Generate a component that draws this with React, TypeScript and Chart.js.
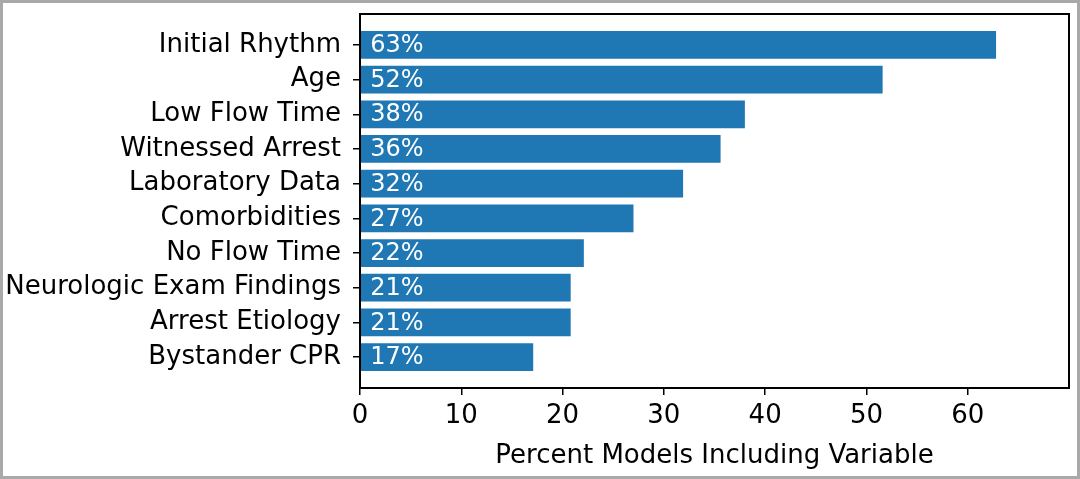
import React, { useEffect, useRef } from "react";
import { Chart, registerables } from "chart.js";

Chart.register(...registerables);

const categories = [
  "Initial Rhythm",
  "Age",
  "Low Flow Time",
  "Witnessed Arrest",
  "Laboratory Data",
  "Comorbidities",
  "No Flow Time",
  "Neurologic Exam Findings",
  "Arrest Etiology",
  "Bystander CPR",
];
const percentValues = [62.8, 51.6, 38.0, 35.6, 31.9, 27.0, 22.1, 20.8, 20.8, 17.1];
const barLabels = ["63%", "52%", "38%", "36%", "32%", "27%", "22%", "21%", "21%", "17%"];
const xTickValues = [0, 10, 20, 30, 40, 50, 60];
const xAxisTitle = "Percent Models Including Variable";

const FONT = "'DejaVu Sans', sans-serif";

export default function App() {
  const ref = useRef<HTMLCanvasElement | null>(null);

  useEffect(() => {
    document.body.style.margin = "0";
    const canvas = ref.current;
    if (!canvas) return;

    const framePlugin = {
      id: "frameAndLabels",
      afterDatasetsDraw(chart: any) {
        const ctx = chart.ctx;
        const meta = chart.getDatasetMeta(0);
        const xs = chart.scales.x;
        ctx.save();
        ctx.fillStyle = "#ffffff";
        ctx.font = `24px ${FONT}`;
        ctx.textAlign = "left";
        ctx.textBaseline = "middle";
        meta.data.forEach((el: any, i: number) => {
          ctx.fillText(barLabels[i], xs.getPixelForValue(1), el.y + 1);
        });
        ctx.restore();
      },
      afterDraw(chart: any) {
        const ctx = chart.ctx;
        const a = chart.chartArea;
        ctx.save();
        ctx.strokeStyle = "#000000";
        ctx.lineWidth = 2;
        ctx.strokeRect(a.left, a.top, a.right - a.left, a.bottom - a.top);
        ctx.strokeStyle = "#a9a9a9";
        ctx.lineWidth = 3;
        ctx.strokeRect(1.5, 1.5, chart.width - 3, chart.height - 3);
        ctx.restore();
      },
    };

    const chart = new Chart(canvas, {
      type: "bar",
      data: {
        datasets: [
          {
            data: percentValues.map((v, i) => ({ x: v, y: i })),
            backgroundColor: "#1f77b4",
            borderWidth: 0,
            barPercentage: 0.8,
            categoryPercentage: 1.0,
          },
        ],
      },
      options: {
        indexAxis: "y",
        animation: false,
        responsive: false,
        layout: { padding: { top: 14, right: 11, left: 0, bottom: 0 } },
        plugins: { legend: { display: false }, tooltip: { enabled: false } },
        scales: {
          x: {
            type: "linear",
            min: 0,
            max: 70,
            offset: false,
            afterBuildTicks: (scale: any) => {
              scale.ticks = xTickValues.map((v) => ({ value: v }));
            },
            afterFit: (scale: any) => {
              scale.height = 91;
              scale.paddingLeft = 0;
              scale.paddingRight = 0;
            },
            grid: { drawOnChartArea: false, drawTicks: true, tickLength: 7, color: "#000", lineWidth: 1.5, offset: false },
            border: { display: false },
            ticks: { color: "#000", font: { family: FONT, size: 26 }, padding: 6, maxRotation: 0 },
            title: {
              display: true,
              text: xAxisTitle,
              color: "#000",
              font: { family: FONT, size: 26 },
              padding: { top: 0, bottom: 7 },
            },
          },
          y: {
            type: "linear",
            min: -0.89,
            max: 9.89,
            reverse: true,
            offset: false,
            afterBuildTicks: (scale: any) => {
              scale.ticks = categories.map((_, i) => ({ value: i }));
            },
            afterFit: (scale: any) => {
              scale.width = 360;
              scale.paddingTop = 0;
              scale.paddingBottom = 0;
            },
            grid: { drawOnChartArea: false, drawTicks: true, tickLength: 7, color: "#000", lineWidth: 1.5, offset: false },
            border: { display: false },
            ticks: {
              color: "#000",
              font: { family: FONT, size: 26 },
              padding: 12,
              callback: (v: any) => categories[v as number] ?? "",
            },
          },
        },
      },
      plugins: [framePlugin],
    });

    return () => chart.destroy();
  }, []);

  return (
    <div style={{ position: "absolute", left: 0, top: 0, width: 1080, height: 479, background: "#fff" }}>
      <canvas ref={ref} width={1080} height={479} style={{ display: "block" }} />
    </div>
  );
}
